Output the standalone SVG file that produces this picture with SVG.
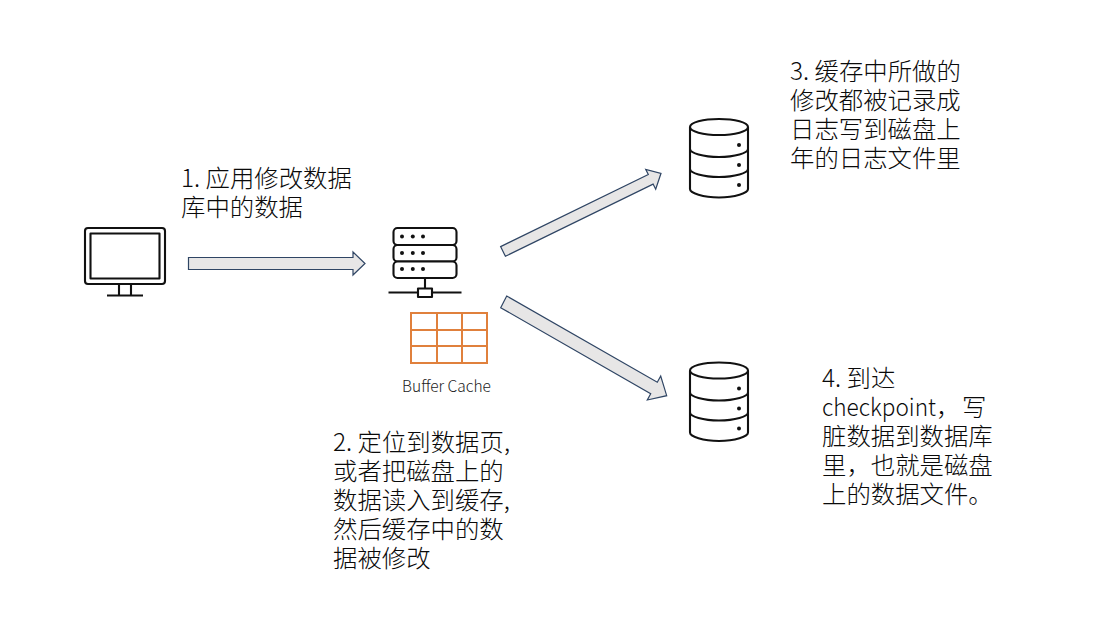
<svg xmlns="http://www.w3.org/2000/svg" width="1096" height="633" viewBox="0 0 1096 633">
<style>
text{font-family:"Noto Sans CJK SC","Noto Sans",sans-serif;font-size:24.4px;font-weight:300;fill:#0a0a0a}
.ic{fill:#fff;stroke:#111;stroke-width:2.1;stroke-linejoin:round}
.ln{fill:none;stroke:#111;stroke-width:2.1}
.dot{fill:#111;stroke:none}
.arrow{fill:#e7e6e6;stroke:#2f4564;stroke-width:1.2;stroke-linejoin:miter}
.g{fill:none;stroke:#e0803c;stroke-width:2}
</style>
<defs>
<g id="db">
<path class="ic" d="M690 127V189C690 193 703 197.500 719 197.500C735 197.500 748 193 748 189V127"/>
<ellipse class="ic" cx="719" cy="127" rx="29" ry="8"/>
<path class="ln" d="M690 149C690 153 703 157 719 157C735 157 748 153 748 149M690 169C690 173 703 177 719 177C735 177 748 173 748 169"/>
<circle class="dot" cx="739" cy="145" r="2"/><circle class="dot" cx="739" cy="165" r="2"/><circle class="dot" cx="739" cy="185" r="2"/>
</g>
</defs>
<rect width="1096" height="633" fill="#fff"/>
<g id="connectors">
<polygon class="arrow" points="188.500,257.500 353,257.500 353,252 365,263.500 353,275 353,269.500 188.500,269.500"/>
<polygon class="arrow" points="500.600,246.600 648.300,174.500 645.700,169.300 661,173.300 655.700,189.300 653.100,184.100 505.400,256.300"/>
<polygon class="arrow" points="506.700,296 657.300,382.200 660.700,376 666.700,395.700 647.300,400 650.700,393.800 500.700,307.700"/>
</g>
<g id="client">
<rect class="ic" x="85" y="228" width="80" height="56" rx="3"/>
<rect class="ic" x="90.500" y="233.500" width="69" height="45"/>
<path class="ln" d="M119 284V295.500M131 284V295.500M107 295.500H143"/>
</g>
<g id="server">
<rect class="ic" x="393.500" y="228" width="63" height="17" rx="4"/>
<rect class="ic" x="393.500" y="245" width="63" height="16.500" rx="4"/>
<rect class="ic" x="393.500" y="261.500" width="63" height="16.500" rx="4"/>
<g class="dot"><circle cx="402" cy="236.500" r="2"/><circle cx="412.800" cy="236.500" r="2"/><circle cx="423" cy="236.500" r="2"/><circle cx="402" cy="253" r="2"/><circle cx="412.800" cy="253" r="2"/><circle cx="423" cy="253" r="2"/><circle cx="402" cy="269" r="2"/><circle cx="412.800" cy="269" r="2"/><circle cx="423" cy="269" r="2"/></g>
<path class="ln" d="M425 278V289M388.500 292.500H461.500"/>
<rect class="ic" x="418" y="288.500" width="14" height="8.500"/>
</g>
<g id="buffer-cache">
<rect class="g" x="411" y="313" width="76" height="50"/>
<path class="g" d="M437 313V363M462 313V363M411 330H487M411 346H487"/>
<text x="446.500" y="392" text-anchor="middle" style="font-size:15.500px;fill:#222">Buffer Cache</text>
</g>
<g id="db-log"><use href="#db"/></g>
<g id="db-data"><use href="#db" y="243.500"/></g>
<g id="label-1"><text x="181" y="187">1. 应用修改数据</text><text x="181" y="216">库中的数据</text></g>
<g id="label-2"><text x="333" y="451">2. 定位到数据页,</text><text x="333" y="480">或者把磁盘上的</text><text x="333" y="509">数据读入到缓存,</text><text x="333" y="538">然后缓存中的数</text><text x="333" y="567">据被修改</text></g>
<g id="label-3"><text x="790" y="80">3. 缓存中所做的</text><text x="790" y="109">修改都被记录成</text><text x="790" y="138">日志写到磁盘上</text><text x="790" y="167">年的日志文件里</text></g>
<g id="label-4"><text x="822" y="387">4. 到达</text><text x="822" y="416"><tspan textLength="114" lengthAdjust="spacingAndGlyphs">checkpoint</tspan>，<tspan x="962">写</tspan></text><text x="822" y="445">脏数据到数据库</text><text x="822" y="474">里，也就是磁盘</text><text x="822" y="503">上的数据文件。</text></g>
</svg>
